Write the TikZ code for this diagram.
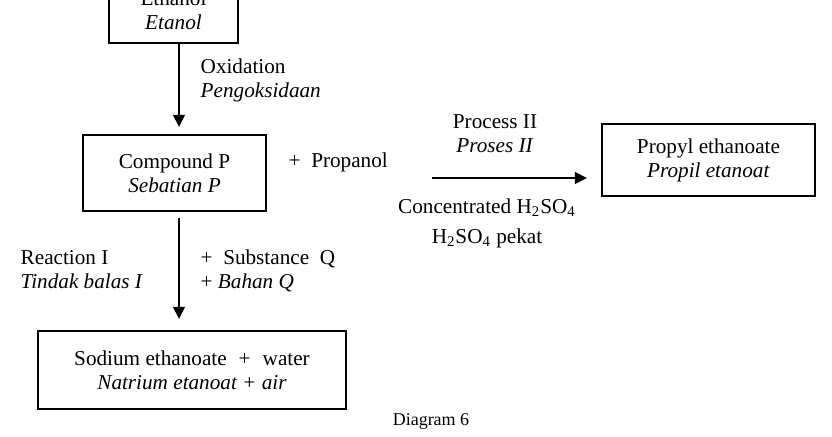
\documentclass[tikz,border=0pt]{standalone}
\usepackage{fontspec}
\setmainfont{Liberation Serif}
\usetikzlibrary{arrows.meta}

\begin{document}
\begin{tikzpicture}[x=0.5pt, y=-0.5pt, >={Triangle[length=6pt, width=6pt]}, line width=0.7pt,
		every node/.style={font=\fontsize{10.6}{12}\selectfont, inner sep=0pt},
		box/.style={draw, line width=1.2pt, align=center},
		lbl/.style={align=left, anchor=west}]
	\useasboundingbox (0,0) rectangle (832,437);
	\clip (0,0) rectangle (832,437);
	
	% === 方框 ===
	\node[box, minimum width=64.5pt, minimum height=33pt] (eth) at (173.5,10) {Ethanol\\\textit{Etanol}};
	\node[box, minimum width=91.5pt, minimum height=38pt] (cpdP) at (174.5,173) {Compound P\\\textit{Sebatian P}};
	\node[box, minimum width=106.5pt, minimum height=36pt] (propyl) at (708.5,160) {Propyl ethanoate\\\textit{Propil etanoat}};
	\node[box, minimum width=154pt, minimum height=39pt] (prod) at (192,370) {Sodium ethanoate\hspace{6pt}+\hspace{6pt}water\\\textit{Natrium etanoat + air}};
	
	% 箭头所在的竖线
	\coordinate (ax) at (179,0);
	\coordinate (pstart) at (432,178);
	
	% === 箭头 ===
	\draw[->, shorten >=3.5pt] (eth.south -| ax) -- (cpdP.north -| ax);
	\draw[->, shorten <=3pt, shorten >=5.5pt] (cpdP.south -| ax) -- (prod.north -| ax);
	\draw[->, shorten >=7pt] (pstart) -- (pstart -| propyl.west);
	
	% === 文字 ===
	\node[lbl] (oxi) at (200,80) {Oxidation\\\textit{Pengoksidaan}};
	\node[lbl] (prop) at (288,162) {+\ \ Propanol};
	\node[align=center] (proc) at (495,134) {Process II\\\textit{Proses II}};
	\node[align=center] (acid) at (487,223) {Concentrated H\textsubscript{2}SO\textsubscript{4}\\[3pt]H\textsubscript{2}SO\textsubscript{4} pekat};
	\node[lbl] (reac) at (20,270) {Reaction I\\\textit{Tindak balas I}};
	\node[lbl] (subQ) at (200,271) {+\ \ Substance\ \ Q\\+ \textit{Bahan Q}};
	
	\node[font=\fontsize{9}{10}\selectfont] (cap) at (431,421) {Diagram 6};
\end{tikzpicture}
\end{document}
